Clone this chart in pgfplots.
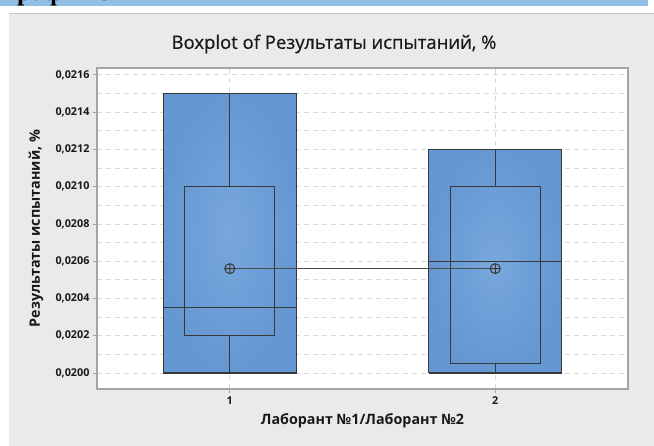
\documentclass[border=0pt]{standalone}
\usepackage{fontspec}
\setmainfont{Open Sans}
\newfontfamily\titlefont[FakeBold=0.6]{Open Sans}
\newfontfamily\serifb{Liberation Serif}
\usepackage{pgfplots}
\pgfplotsset{compat=1.18}
\usetikzlibrary{plotmarks}
\definecolor{headerblue}{HTML}{92BFE7}
\definecolor{panelgray}{HTML}{EAEAEA}
\definecolor{boxedge}{HTML}{6597D3}
\definecolor{boxcenter}{HTML}{77A7DC}
\definecolor{boxline}{HTML}{383838}
\definecolor{framegray}{HTML}{A4A4A4}
\definecolor{gridgray}{HTML}{D9D9D9}
\begin{document}
\begin{tikzpicture}[x=1pt,y=1pt]
\useasboundingbox (0,0) rectangle (654,446);
\fill[white] (0,0) rectangle (654,446);
\fill[headerblue] (0,440) rectangle (648,446);
\begin{scope}
\clip (0,440) rectangle (648,446);
\node[anchor=base west, inner sep=0pt, text=black, font=\serifb\bfseries\fontsize{26}{26}\selectfont] at (2,445.3) {График 3};
\end{scope}
\fill[panelgray] (9,0) rectangle (654,433);
\draw[gray!45, line width=0.8pt] (9,433) -- (654,433);
\node[font=\titlefont\fontsize{18.5}{21}\selectfont, text=black!90] at (334,402) {Boxplot of Результаты испытаний, \%};
\begin{axis}[
  at={(97pt,57pt)}, anchor=south west,
  scale only axis, width=531pt, height=321pt,
  xmin=0.5, xmax=2.5, ymin=0.019914, ymax=0.021637,
  axis background/.style={fill=white},
  axis line style={draw=framegray, line width=1.2pt},
  xtick={1,2}, xticklabels={1,2},
  ytick={0.0200,0.0202,0.0204,0.0206,0.0208,0.0210,0.0212,0.0214,0.0216},
  minor ytick={0.0201,0.0203,0.0205,0.0207,0.0209,0.0211,0.0213,0.0215},
  ymajorgrids, yminorgrids, xmajorgrids,
  major grid style={dash pattern=on 5pt off 4pt, gridgray, line width=0.8pt},
  minor grid style={dash pattern=on 5pt off 4pt, gridgray, line width=0.8pt},
  tick align=outside, tick pos=left,
  major tick length=4pt, minor tick length=0pt,
  tick style={framegray, line width=0.8pt},
  scaled y ticks=false,
  yticklabel style={/pgf/number format/.cd, fixed, fixed zerofill, precision=4, use comma, assume math mode=true},
  xticklabel style={/pgf/number format/assume math mode=true},
  ticklabel style={font=\bfseries\fontsize{10.8}{12}\selectfont, text=black!90},
  ylabel={Результаты испытаний, \%},
  xlabel={Лаборант №1/Лаборант №2},
  label style={font=\bfseries\fontsize{14.3}{16}\selectfont, text=black!90},
  ylabel style={at={(axis description cs:-0.115,0.5)}, anchor=center},
  xlabel style={at={(axis description cs:0.5,-0.1)}, anchor=center},
  clip=false,
]
% group 1
\addplot[draw=none, inner color=boxcenter, outer color=boxedge] coordinates {(0.75,0.0200) (1.25,0.0200) (1.25,0.0215) (0.75,0.0215)} -- cycle;
\addplot[draw=boxline, line width=1.2pt, line join=miter] coordinates {(0.75,0.0200) (1.25,0.0200) (1.25,0.0215) (0.75,0.0215) (0.75,0.0200)};
\addplot[draw=boxline, line width=1.1pt, line join=miter] coordinates {(0.83,0.0202) (1.17,0.0202) (1.17,0.0210) (0.83,0.0210) (0.83,0.0202)};
\addplot[boxline, line width=1.1pt] coordinates {(0.75,0.02035) (1.25,0.02035)};
\addplot[boxline, line width=1.1pt] coordinates {(1,0.0210) (1,0.0215)};
\addplot[boxline, line width=1.1pt] coordinates {(1,0.0200) (1,0.0202)};
% group 2
\addplot[draw=none, inner color=boxcenter, outer color=boxedge] coordinates {(1.75,0.0200) (2.25,0.0200) (2.25,0.0212) (1.75,0.0212)} -- cycle;
\addplot[draw=boxline, line width=1.2pt, line join=miter] coordinates {(1.75,0.0200) (2.25,0.0200) (2.25,0.0212) (1.75,0.0212) (1.75,0.0200)};
\addplot[draw=boxline, line width=1.1pt, line join=miter] coordinates {(1.83,0.02005) (2.17,0.02005) (2.17,0.0210) (1.83,0.0210) (1.83,0.02005)};
\addplot[boxline, line width=1.1pt] coordinates {(1.75,0.0206) (2.25,0.0206)};
\addplot[boxline, line width=1.1pt] coordinates {(2,0.0210) (2,0.0212)};
\addplot[boxline, line width=1.1pt] coordinates {(2,0.0200) (2,0.02005)};
% means
\addplot[black!70, line width=1pt, mark=oplus, mark size=5pt, mark options={draw=boxline, fill=none, line width=1pt}] coordinates {(1,0.02056) (2,0.02056)};
\end{axis}
\end{tikzpicture}
\end{document}
